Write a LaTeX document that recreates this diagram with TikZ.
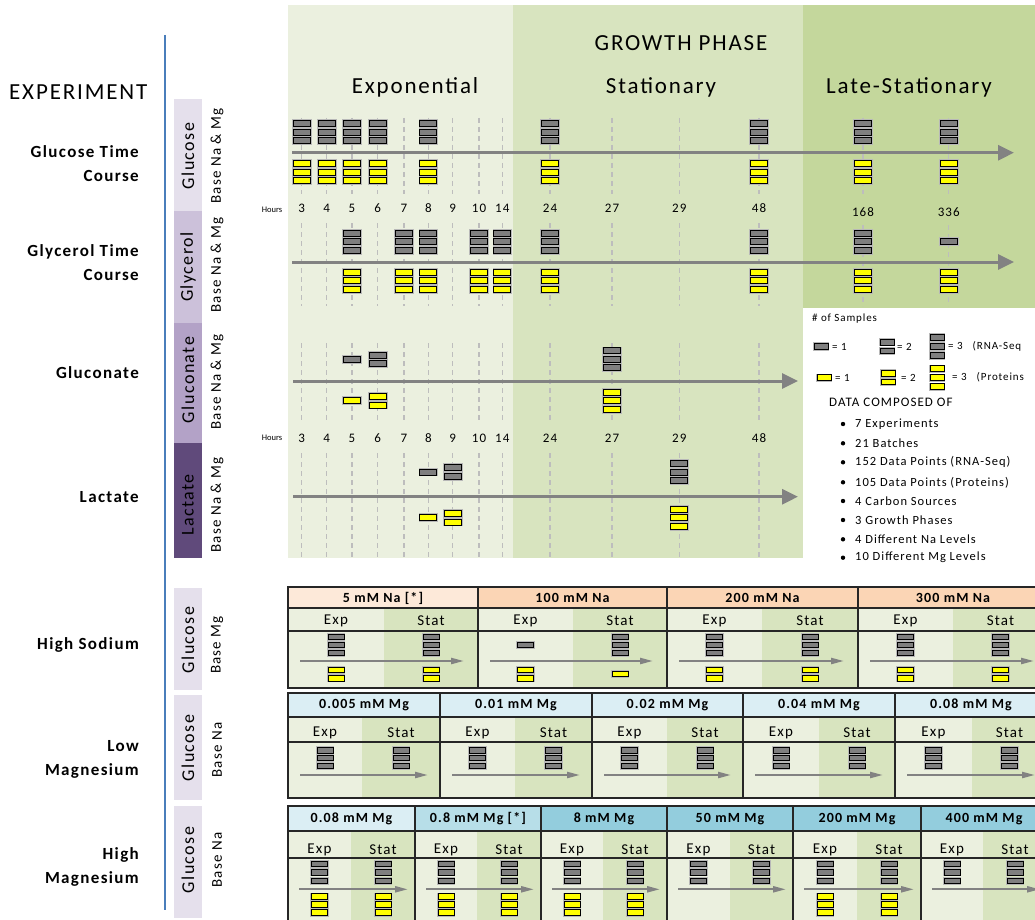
\documentclass[tikz,border=0pt]{standalone}
\usepackage{fontspec}
\setmainfont{Carlito}
\newfontfamily\lsf[LetterSpace=8]{Carlito}
\usetikzlibrary{arrows.meta}
\definecolor{expc}{HTML}{EBF0DF}
\definecolor{statc}{HTML}{D8E4BF}
\definecolor{latec}{HTML}{C4D79C}
\definecolor{dashc}{HTML}{BDBDBD}
\definecolor{arrc}{HTML}{828282}
\definecolor{grayc}{HTML}{7F7F7F}
\definecolor{yelc}{HTML}{FFFF00}
\definecolor{tabc}{HTML}{262626}
\definecolor{pA}{HTML}{E5E0EC}
\definecolor{pB}{HTML}{CCC1DA}
\definecolor{pC}{HTML}{B3A2C7}
\definecolor{pD}{HTML}{604A7B}
\definecolor{blueline}{HTML}{4A7EBB}
\definecolor{hsa}{HTML}{FDE9D9}
\definecolor{hsb}{HTML}{FBD5B5}
\definecolor{lbA}{HTML}{DBEEF4}
\definecolor{lbB}{HTML}{B7DEE8}
\definecolor{lbC}{HTML}{93CDDD}
\def\bw{8.5}\def\bh{3}
\newcommand\stk[5]{%
  \ifnum#3>0\relax
    \foreach \k in {1,...,#3}{%
      \pgfmathsetmacro\yy{#2+(\k-(#3+1)/2)*#5}%
      \draw[sbox,fill=#4] ({#1-\bw},{\yy-\bh}) rectangle ({#1+\bw},{\yy+\bh});
    }%
  \fi}
\begin{document}
\begin{tikzpicture}[x=1pt,y=-1pt,
  dl/.style={draw=dashc, line width=1.2pt, dash pattern=on 5pt off 4pt},
  sbox/.style={draw=black, line width=0.9pt, preaction={draw=black!28, line width=2.6pt}},
  bigarrow/.style={draw=arrc, line width=3pt, -{Triangle[length=16pt,width=15pt]}},
  tarrow/.style={draw=arrc, line width=2.2pt, -{Triangle[length=13pt,width=6pt]}},
  tline/.style={draw=tabc, line width=1.3pt},
  big/.style={font=\lsf\fontsize{23}{27}\selectfont, inner sep=0pt},
  lab/.style={font=\lsf\bfseries\fontsize{17}{24}\selectfont, align=right, anchor=east, inner sep=0pt},
  rot/.style={rotate=90, font=\lsf\fontsize{18}{20}\selectfont, inner sep=0pt},
  rots/.style={rotate=90, font=\lsf\fontsize{15}{17}\selectfont, inner sep=0pt},
  num/.style={font=\lsf\fontsize{13}{15}\selectfont, inner sep=0pt},
  hrs/.style={font=\fontsize{8.5}{9}\selectfont, inner sep=0pt},
  leg/.style={font=\lsf\fontsize{11}{13}\selectfont, inner sep=0pt, anchor=west},
  legb/.style={font=\lsf\fontsize{13}{15}\selectfont, inner sep=0pt, anchor=west},
  thead/.style={font=\lsf\bfseries\fontsize{14}{16}\selectfont, inner sep=0pt},
  sub/.style={font=\lsf\fontsize{15}{17}\selectfont, inner sep=0pt}
]
\useasboundingbox (0,0) rectangle (1035,920);
\clip (0,0) rectangle (1035,920);

% ---------- backgrounds of the growth phase panel
\fill[expc] (288,5) rectangle (513,558);
\fill[statc] (513,5) rectangle (803,558);
\fill[latec] (803,5) rectangle (1035,308);

\node[big] (gp) at (681,43) {GROWTH PHASE};
\node[big] (ph1) at (415,87) {Exponential};
\node[big] (ph2) at (661,87) {Stationary};
\node[big] (ph3) at (909,87) {Late-Stationary};

% ---------- left column
\node[big, anchor=west] (exp) at (9,92) {EXPERIMENT};
\draw[blueline, line width=2.5pt] (165,35) -- (165,910);

\fill[pA] (174,99) rectangle (202,211);
\fill[pB] (174,211) rectangle (202,323);
\fill[pC] (174,323) rectangle (202,443);
\fill[pD] (174,443) rectangle (202,558);
\fill[pA] (174,588) rectangle (202,690);
\fill[pA] (174,695) rectangle (202,800);
\fill[pA] (174,806) rectangle (202,918);

\node[rot] (c1) at (188,156) {Glucose};
\node[rot] (c2) at (188,267) {Glycerol};
\node[rot] (c3) at (188,380) {Gluconate};
\node[rot, text=black] (c4) at (188,505) {Lactate};
\node[rot] (c5) at (188,640) {Glucose};
\node[rot] (c6) at (188,748) {Glucose};
\node[rot] (c7) at (188,860) {Glucose};

\node[rots] (b1) at (217,156) {Base Na \& Mg};
\node[rots] (b2) at (217,265) {Base Na \& Mg};
\node[rots] (b3) at (217,382) {Base Na \& Mg};
\node[rots] (b4) at (217,505) {Base Na \& Mg};
\node[rots] (b5) at (217,645) {Base Mg};
\node[rots] (b6) at (217,750) {Base Na};
\node[rots] (b7) at (217,860) {Base Na};

\node[lab] (l1) at (139,164) {Glucose Time\\Course};
\node[lab] (l2) at (139,263) {Glycerol Time\\Course};
\node[lab] (l3) at (139,373) {Gluconate};
\node[lab] (l4) at (139,497) {Lactate};
\node[lab] (l5) at (139,645) {High Sodium};
\node[lab] (l6) at (139,759) {Low\\Magnesium};
\node[lab] (l7) at (139,867) {High\\Magnesium};

% ---------- dashed time lines
\def\tall{301.7,326.7,352,377.7,404,428.3,452.7,479,502.3,550,612,679.3,759}
\foreach \x in \tall {
  \draw[dl] (\x,118) -- (\x,194);
  \draw[dl] (\x,223) -- (\x,306);
  \draw[dl] (\x,343) -- (\x,421);
  \draw[dl] (\x,453) -- (\x,558);
}
\foreach \x in {863,948.7} {
  \draw[dl] (\x,118) -- (\x,194);
  \draw[dl] (\x,225) -- (\x,306);
}

% ---------- hour labels
\node[hrs] (hA) at (272,210) {Hours};
\node[hrs] (hB) at (272,438) {Hours};
\foreach \x/\t [count=\ci] in {301.7/3,326.7/4,352/5,377.7/6,404/7,428.3/8,452.7/9,479/10,502.3/14,550/24,612/27,679.3/29,759/48} {
  \node[num] (ta\ci) at (\x,208) {\t};
  \node[num] (tb\ci) at (\x,438) {\t};
}
\node[num] (ta14) at (863,212) {168};
\node[num] (ta15) at (948.7,212) {336};

% ---------- time axes
\coordinate (a1s) at (292,152.7); \coordinate (a1e) at (1014,152.7);
\coordinate (a2s) at (292,262);   \coordinate (a2e) at (1014,262);
\coordinate (a3s) at (293,381);   \coordinate (a3e) at (798,381);
\coordinate (a4s) at (293,496.7); \coordinate (a4e) at (798,496.7);
\draw[bigarrow] (a1s) -- (a1e);
\draw[bigarrow] (a2s) -- (a2e);
\draw[bigarrow] (a3s) -- (a3e);
\draw[bigarrow] (a4s) -- (a4e);

% ---------- samples, time courses
\foreach \x in {301.7,326.7,352,377.7,428.3,550,759,863,948.7} {
  \stk{\x}{132}{3}{grayc}{8.5}
  \stk{\x}{172}{3}{yelc}{8.5}
}
\foreach \x in {352,404,428.3,479,502.3,550,759,863} {
  \stk{\x}{241.7}{3}{grayc}{8.5}
  \stk{\x}{280.7}{3}{yelc}{8.5}
}
\stk{948.7}{241.7}{1}{grayc}{8.5}
\stk{948.7}{280.7}{3}{yelc}{8.5}
\foreach \x/\n in {352/1,377.7/2,612/3} {
  \stk{\x}{359.3}{\n}{grayc}{8.5}
  \stk{\x}{400.7}{\n}{yelc}{8.5}
}
\foreach \x/\n in {428.3/1,452.7/2,679.3/3} {
  \stk{\x}{472}{\n}{grayc}{8.5}
  \stk{\x}{517.7}{\n}{yelc}{8.5}
}

% ---------- legend
\node[leg] (ls) at (812,319) {\# of Samples};
\def\bw{7}\def\bh{2.8}
\stk{821}{346.5}{1}{grayc}{8}
\node[leg] (lg1) at (832,346.5) {= 1};
\stk{887}{346.5}{2}{grayc}{8.5}
\node[leg] (lg2) at (897,346.5) {= 2};
\stk{937}{346.5}{3}{grayc}{9}
\node[leg] (lg3) at (948,346.5) {= 3 \ \ (RNA-Seq};
\stk{824}{377.7}{1}{yelc}{8}
\node[leg] (ly1) at (835,377.7) {= 1};
\stk{888}{377.7}{2}{yelc}{8.5}
\node[leg] (ly2) at (901,377.7) {= 2};
\stk{937}{377.7}{3}{yelc}{9}
\node[leg] (ly3) at (952,377.7) {= 3 \ \ (Proteins};
\node[legb] (dc) at (829,402) {DATA COMPOSED OF};
\foreach \t/\y [count=\ci] in {7 Experiments/424, 21 Batches/443.3, 152 Data Points (RNA-Seq)/462.3, 105 Data Points (Proteins)/482.3, 4 Carbon Sources/501, 3 Growth Phases/520, 4 Different Na Levels/539.3, 10 Different Mg Levels/557.7} {
  \fill (843,\y) circle (2.2);
  \node[leg, font=\lsf\fontsize{12.5}{14}\selectfont] (it\ci) at (855,\y) {\t};
}

% ---------- High sodium table
\def\bw{8}\def\bh{2.8}
\foreach \xl/\xsp/\xr/\lab/\hc/\gE/\yE/\gS/\yS [count=\ci] in {
  288/384/478/{5 mM Na [*]}/hsa/3/2/3/2,
  478/573/667/{100 mM Na}/hsb/1/2/3/1,
  667/762/858/{200 mM Na}/hsb/3/2/3/2,
  858/953/1048/{300 mM Na}/hsb/3/2/3/2} {
  \fill[expc] (\xl,608) rectangle (\xsp,688);
  \fill[statc] (\xsp,608) rectangle (\xr,688);
  \fill[fill=\hc] (\xl,587) rectangle (\xr,608);
  \pgfmathsetmacro\xm{(\xl+\xr)/2}
  \pgfmathsetmacro\xe{(\xl+\xsp)/2}
  \pgfmathsetmacro\xs{(\xsp+\xr)/2}
  \node[thead] (hs\ci) at (\xm,598) {\lab};
  \node[sub] (hse\ci) at (\xe,621) {Exp};
  \node[sub] (hss\ci) at (\xs,621) {Stat};
  \draw[tarrow] ({\xl+12},661) -- ({\xr-14},661);
  \stk{\xe}{645}{\gE}{grayc}{8}
  \stk{\xs}{645}{\gS}{grayc}{8}
  \stk{\xe}{674}{\yE}{yelc}{8.3}
  \stk{\xs}{674}{\yS}{yelc}{8.3}
  \draw[tline] (\xl,587) rectangle (\xr,688);
  \draw[tline] (\xl,608) -- (\xr,608);
  \draw[tline] (\xl,631) -- (\xr,631);
}

% ---------- Low magnesium table
\foreach \xl/\xsp/\xr/\lab [count=\ci] in {
  288/362/440/{0.005 mM Mg},
  440/515/592/{0.01 mM Mg},
  592/667/743/{0.02 mM Mg},
  743/819/895/{0.04 mM Mg},
  895/972/1047/{0.08 mM Mg}} {
  \fill[expc] (\xl,717) rectangle (\xsp,798);
  \fill[statc] (\xsp,717) rectangle (\xr,798);
  \fill[lbA] (\xl,693) rectangle (\xr,717);
  \pgfmathsetmacro\xm{(\xl+\xr)/2}
  \pgfmathsetmacro\xe{(\xl+\xsp)/2}
  \pgfmathsetmacro\xs{(\xsp+\xr)/2}
  \node[thead] (lm\ci) at (\xm,705) {\lab};
  \node[sub] (lme\ci) at (\xe,733) {Exp};
  \node[sub] (lms\ci) at (\xs,733) {Stat};
  \draw[tarrow] ({\xl+12},775) -- ({\xr-12},775);
  \stk{\xe}{758}{3}{grayc}{7.8}
  \stk{\xs}{758}{3}{grayc}{7.8}
  \draw[tline] (\xl,693) rectangle (\xr,798);
  \draw[tline] (\xl,717) -- (\xr,717);
  \draw[tline] (\xl,742) -- (\xr,742);
}

% ---------- High magnesium table
\foreach \xl/\xsp/\xr/\lab/\hc/\yN [count=\ci] in {
  288/351/415/{0.08 mM Mg}/lbA/3,
  415/477/541/{0.8 mM Mg [*]}/lbB/3,
  541/603/667/{8 mM Mg}/lbC/3,
  667/730/793/{50 mM Mg}/lbC/0,
  793/857/921/{200 mM Mg}/lbC/3,
  921/983/1047/{400 mM Mg}/lbC/0} {
  \fill[expc] (\xl,831) rectangle (\xsp,925);
  \fill[statc] (\xsp,831) rectangle (\xr,925);
  \fill[fill=\hc] (\xl,806) rectangle (\xr,831);
  \pgfmathsetmacro\xm{(\xl+\xr)/2}
  \pgfmathsetmacro\xe{(\xl+\xsp)/2}
  \pgfmathsetmacro\xs{(\xsp+\xr)/2}
  \node[thead] (hm\ci) at (\xm,819) {\lab};
  \node[sub] (hme\ci) at (\xe,850) {Exp};
  \node[sub] (hms\ci) at (\xs,850) {Stat};
  \draw[tarrow] ({\xl+11},889.3) -- ({\xr-7},889.3);
  \stk{\xe}{872.3}{3}{grayc}{8.5}
  \stk{\xs}{872.3}{3}{grayc}{8.5}
  \stk{\xe}{904.7}{\yN}{yelc}{8}
  \stk{\xs}{904.7}{\yN}{yelc}{8}
  \draw[tline] (\xl,806) rectangle (\xr,925);
  \draw[tline] (\xl,831) -- (\xr,831);
  \draw[tline] (\xl,858) -- (\xr,858);
}
\end{tikzpicture}
\end{document}
